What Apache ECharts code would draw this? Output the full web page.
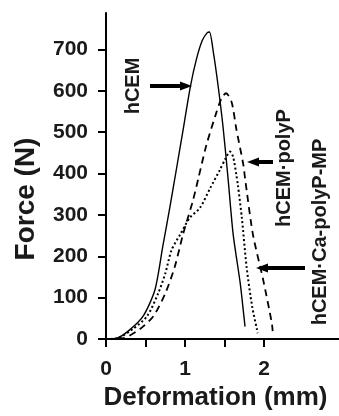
<!DOCTYPE html>
<html>
<head>
<meta charset="utf-8">
<script src="https://cdn.jsdelivr.net/npm/echarts@6/dist/echarts.min.js"></script>
<style>
  html, body { margin: 0; padding: 0; background: #fff; }
  #chart { width: 339px; height: 416px; }
</style>
</head>
<body>
<div id="chart"></div>
<script>
// force-deformation curves, [deformation mm, force N]
const hcem = [
  [0, 0], [0.14, 2], [0.30, 22], [0.47, 55], [0.62, 119], [0.72, 225], [0.81, 320],
  [0.90, 420], [0.98, 510], [1.07, 612], [1.15, 680], [1.22, 722], [1.28, 740], [1.31, 742],
  [1.36, 692], [1.42, 611], [1.48, 516], [1.545, 389], [1.61, 253], [1.70, 134],
  [1.75, 48], [1.76, 30]
];
const hcemPolyP = [
  [0, 0], [0.22, 2], [0.43, 24], [0.60, 55], [0.75, 110], [0.87, 174], [0.975, 253],
  [1.10, 334], [1.17, 389], [1.27, 468], [1.40, 549], [1.47, 585], [1.52, 594],
  [1.59, 573], [1.65, 508], [1.74, 420], [1.76, 389], [1.86, 253], [1.99, 143],
  [2.10, 38], [2.11, 19]
];
const hcemCaPolyPMP = [
  [0, 0], [0.15, 2], [0.34, 24], [0.52, 55], [0.66, 110], [0.75, 158], [0.83, 215],
  [0.94, 253], [1.06, 293], [1.19, 317], [1.32, 365], [1.44, 408], [1.51, 435],
  [1.57, 453], [1.61, 440], [1.65, 397], [1.67, 372], [1.72, 293], [1.78, 174],
  [1.85, 79], [1.91, 24], [1.92, 14]
];
const xTicks = [0, 0.5, 1, 1.5, 2];
const xLabels = [0, 1, 2];
const yTicks = [0, 100, 200, 300, 400, 500, 600, 700];

const font = '"Liberation Sans", Arial, sans-serif';
const ink = '#1a1a1a';

const chart = echarts.init(document.getElementById('chart'));

function arrow(x1, x2, y) {
  // shaft from x1 to x2, head at x2
  const dir = x2 > x1 ? 1 : -1;
  const base = x2 - dir * 12;
  return {
    type: 'group',
    children: [
      { type: 'line', shape: { x1: x1, y1: y, x2: base, y2: y }, style: { stroke: '#000', lineWidth: 4 } },
      { type: 'polygon', shape: { points: [[x2, y], [base, y - 4.5], [base, y + 4.5]] }, style: { fill: '#000' } }
    ]
  };
}

function vlabel(text, x, y) {
  return {
    type: 'text', x: x, y: y, rotation: Math.PI / 2,
    style: { text: text, font: 'bold 20px ' + font, fill: ink, align: 'center', verticalAlign: 'middle' }
  };
}

const option = {
  animation: false,
  grid: { left: 106, right: 0, top: 13, bottom: 73 },
  xAxis: {
    type: 'value', min: 0, max: 2.95,
    name: 'Deformation (mm)', nameLocation: 'middle', nameGap: 46,
    nameTextStyle: { fontFamily: font, fontWeight: 'bold', fontSize: 26, color: ink, padding: [0, 14, 0, 0] },
    splitLine: { show: false },
    axisLine: { lineStyle: { color: '#000', width: 2 } },
    axisTick: { length: 8, lineStyle: { color: '#000', width: 2 }, customValues: xTicks },
    axisLabel: { customValues: xLabels, margin: 20, fontFamily: font, fontWeight: 'bold', fontSize: 21, color: ink }
  },
  yAxis: {
    type: 'value', min: 0, max: 788,
    name: 'Force (N)', nameLocation: 'middle', nameGap: 66, nameRotate: 90,
    nameTextStyle: { fontFamily: font, fontWeight: 'bold', fontSize: 28, color: ink, padding: [0, 46, 0, 0] },
    splitLine: { show: false },
    axisLine: { lineStyle: { color: '#000', width: 2 } },
    axisTick: { length: 8, lineStyle: { color: '#000', width: 2 }, customValues: yTicks },
    axisLabel: { customValues: yTicks, margin: 18, fontFamily: font, fontWeight: 'bold', fontSize: 21, color: ink }
  },
  series: [
    { name: 'hCEM', type: 'line', data: hcem, symbol: 'none', smooth: 0.25,
      lineStyle: { width: 1.4, color: '#000' } },
    { name: 'hCEM·polyP', type: 'line', data: hcemPolyP, symbol: 'none', smooth: 0.25,
      lineStyle: { width: 1.8, color: '#000', type: [7, 5] } },
    { name: 'hCEM·Ca-polyP-MP', type: 'line', data: hcemCaPolyPMP, symbol: 'none', smooth: 0.25,
      lineStyle: { width: 2, color: '#000', type: [2, 2.5] } }
  ],
  graphic: [
    vlabel('hCEM', 133, 86),
    vlabel('hCEM·polyP', 284, 168),
    vlabel('hCEM·Ca-polyP-MP', 320, 232),
    arrow(150, 192, 86),
    arrow(273, 247, 162),
    arrow(305, 256, 268)
  ]
};

chart.setOption(option);
</script>
</body>
</html>
